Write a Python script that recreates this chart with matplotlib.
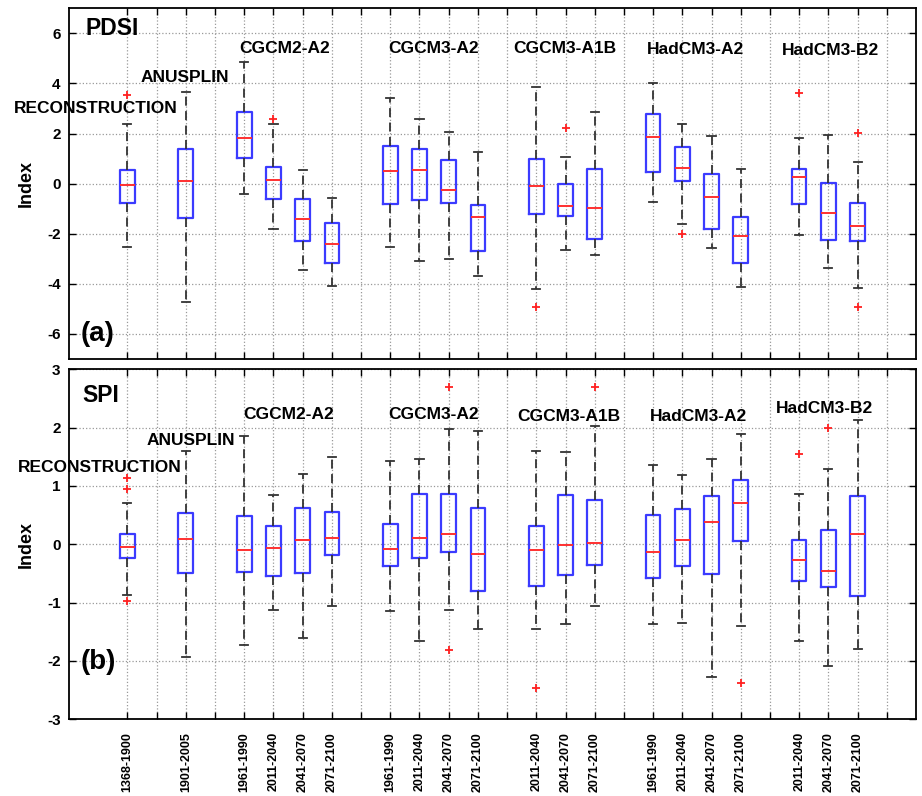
import matplotlib
matplotlib.use("Agg")
import matplotlib.pyplot as plt

plt.rcParams['font.family'] = ['Liberation Sans', 'DejaVu Sans']
plt.rcParams['font.weight'] = 'bold'
plt.rcParams['axes.unicode_minus'] = False

# box positions on the x axis and period labels
positions = [1, 3, 5, 6, 7, 8, 10, 11, 12, 13, 15, 16, 17, 19, 20, 21, 22, 24, 25, 26]
periods = ['1368-1900', '1901-2005',
           '1961-1990', '2011-2040', '2041-2070', '2071-2100',
           '1961-1990', '2011-2040', '2041-2070', '2071-2100',
           '2011-2040', '2041-2070', '2071-2100',
           '1961-1990', '2011-2040', '2041-2070', '2071-2100',
           '2011-2040', '2041-2070', '2071-2100']

# PDSI
pdsi_med = [-0.04, 0.09, 1.84, 0.13, -1.43, -2.39, 0.50, 0.55, -0.27, -1.35,
            -0.09, -0.90, -0.99, 1.85, 0.64, -0.53, -2.11, 0.27, -1.17, -1.71]
pdsi_q1 = [-0.76, -1.36, 1.04, -0.60, -2.29, -3.17, -0.82, -0.64, -0.78, -2.67,
           -1.20, -1.31, -2.21, 0.47, 0.11, -1.83, -3.16, -0.81, -2.25, -2.29]
pdsi_q3 = [0.53, 1.37, 2.87, 0.67, -0.60, -1.57, 1.50, 1.37, 0.93, -0.87,
           0.97, -0.03, 0.57, 2.76, 1.47, 0.37, -1.33, 0.59, 0.01, -0.79]
pdsi_lo = [-2.53, -4.73, -0.40, -1.80, -3.44, -4.09, -2.53, -3.07, -3.01, -3.67,
           -4.20, -2.64, -2.83, -0.73, -1.63, -2.55, -4.11, -2.04, -3.36, -4.16]
pdsi_hi = [2.40, 3.67, 4.87, 2.40, 0.56, -0.57, 3.40, 2.60, 2.07, 1.27,
           3.84, 1.07, 2.87, 4.03, 2.40, 1.92, 0.60, 1.84, 1.96, 0.88]
pdsi_out = [[3.55], [], [], [2.6], [], [], [], [], [], [],
            [-4.91], [2.24], [], [], [-2.03], [], [], [3.6], [], [2.03, -4.91]]

# SPI
spi_med = [-0.04, 0.09, -0.10, -0.07, 0.07, 0.11, -0.08, 0.11, 0.17, -0.16,
           -0.09, -0.01, 0.03, -0.13, 0.07, 0.38, 0.71, -0.27, -0.46, 0.17]
spi_q1 = [-0.24, -0.50, -0.47, -0.54, -0.49, -0.18, -0.38, -0.24, -0.13, -0.80,
          -0.71, -0.53, -0.36, -0.58, -0.37, -0.51, 0.05, -0.63, -0.74, -0.89]
spi_q3 = [0.18, 0.54, 0.49, 0.31, 0.63, 0.56, 0.35, 0.87, 0.86, 0.62,
          0.31, 0.85, 0.76, 0.51, 0.60, 0.82, 1.11, 0.07, 0.25, 0.82]
spi_lo = [-0.87, -1.93, -1.73, -1.13, -1.60, -1.05, -1.14, -1.65, -1.13, -1.45,
          -1.45, -1.36, -1.05, -1.37, -1.35, -2.27, -1.40, -1.65, -2.09, -1.80]
spi_hi = [0.71, 1.60, 1.86, 0.84, 1.20, 1.49, 1.43, 1.47, 1.98, 1.94,
          1.60, 1.58, 2.02, 1.36, 1.18, 1.47, 1.89, 0.87, 1.29, 2.13]
spi_out = [[1.14, 0.94, -0.98], [], [], [], [], [], [], [], [2.70, -1.81], [],
           [-2.47], [], [2.70], [], [], [], [-2.37], [1.55], [2.00], []]

models = ['CGCM2-A2', 'CGCM3-A2', 'CGCM3-A1B', 'HadCM3-A2', 'HadCM3-B2']


def make_stats(med, q1, q3, lo, hi, out):
    stats = []
    for i in range(len(med)):
        stats.append({'med': med[i], 'q1': q1[i], 'q3': q3[i],
                      'whislo': lo[i], 'whishi': hi[i], 'fliers': out[i]})
    return stats


def draw_panel(ax, stats):
    ax.bxp(stats, positions=positions, widths=0.5, capwidths=0.28,
           boxprops=dict(color='#3b3bff', linewidth=1.6),
           medianprops=dict(color='#ff3030', linewidth=1.4),
           whiskerprops=dict(color='#333333', linewidth=1.3, linestyle=(0, (5, 3))),
           capprops=dict(color='#333333', linewidth=1.3),
           flierprops=dict(marker='+', markeredgecolor='#ff2020', markersize=6,
                           markeredgewidth=1.3, linestyle='none'))
    ax.set_xlim(-1, 28)
    ax.set_xticks(range(1, 28))
    ax.grid(True, linestyle=':', color='#999999', linewidth=0.9)
    ax.set_axisbelow(True)
    ax.tick_params(direction='in', top=True, right=True, length=5, width=1,
                   labelsize=11, pad=6)
    for s in ax.spines.values():
        s.set_linewidth(1.3)
    ax.set_ylabel('Index', fontsize=13, fontweight='bold', labelpad=9)


fig = plt.figure(figsize=(9.22, 7.96), dpi=100)
ax1 = fig.add_axes([0.0748, 0.549, 0.9187, 0.4406])
ax2 = fig.add_axes([0.0748, 0.0964, 0.9187, 0.4396])

lab = dict(fontsize=12.5, fontweight='bold', va='center')

# top panel: PDSI
draw_panel(ax1, make_stats(pdsi_med, pdsi_q1, pdsi_q3, pdsi_lo, pdsi_hi, pdsi_out))
ax1.set_ylim(-7, 7)
ax1.set_yticks([-6, -4, -2, 0, 2, 4, 6])
ax1.set_xticklabels([])
ax1.text(-0.45, 6.2, 'PDSI', fontsize=16.5, fontweight='bold', va='center')
ax1.text(-0.6, -6.0, '(a)', fontsize=20, fontweight='bold', va='center')
ax1.text(-2.88, 3.0, 'RECONSTRUCTION', clip_on=False, **lab)
ax1.text(1.44, 4.25, 'ANUSPLIN', **lab)
for name, x, y in zip(models, [6.39, 11.48, 15.98, 20.46, 25.08],
                      [5.4, 5.4, 5.4, 5.37, 5.33]):
    ax1.text(x, y, name, ha='center', **lab)

# bottom panel: SPI
draw_panel(ax2, make_stats(spi_med, spi_q1, spi_q3, spi_lo, spi_hi, spi_out))
ax2.set_ylim(-3, 3)
ax2.set_yticks([-3, -2, -1, 0, 1, 2, 3])
ax2.set_xticks(positions)
ax2.set_xticklabels(periods, rotation=90, fontsize=9, fontweight='bold')
ax2.tick_params(axis='x', pad=9)
ax2.set_xticks([p for p in range(1, 28) if p not in positions], minor=True)
ax2.tick_params(which='minor', direction='in', top=True, length=5, width=1)
ax2.grid(True, which='minor', axis='x', linestyle=':', color='#999999', linewidth=0.9)
ax2.text(-0.53, 2.56, 'SPI', fontsize=16.5, fontweight='bold', va='center')
ax2.text(-0.6, -2.02, '(b)', fontsize=20, fontweight='bold', va='center')
ax2.text(-2.74, 1.32, 'RECONSTRUCTION', clip_on=False, **lab)
ax2.text(1.67, 1.78, 'ANUSPLIN', **lab)
for name, x, y in zip(models, [6.53, 11.48, 16.1, 20.56, 24.85],
                      [2.23, 2.22, 2.2, 2.2, 2.33]):
    ax2.text(x, y, name, ha='center', **lab)

fig.savefig('out.png', dpi=100)
